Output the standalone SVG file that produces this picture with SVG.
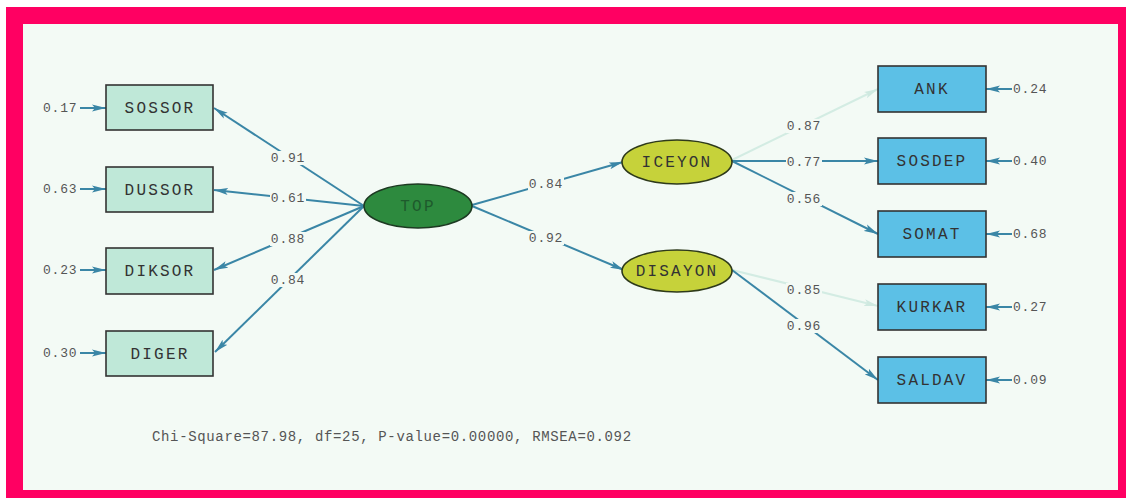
<svg xmlns="http://www.w3.org/2000/svg" width="1132" height="499" viewBox="0 0 1132 499">
<defs>
<marker id="ah" viewBox="0 0 14 8" refX="14" refY="4" markerWidth="14" markerHeight="8" markerUnits="userSpaceOnUse" orient="auto">
<path d="M0,0.5 L14,4 L0,7.5 L3,4 Z" fill="#3a86a6"/>
</marker>
<marker id="ahp" viewBox="0 0 14 8" refX="14" refY="4" markerWidth="14" markerHeight="8" markerUnits="userSpaceOnUse" orient="auto">
<path d="M0,0.5 L14,4 L0,7.5 L3,4 Z" fill="#cfe9e0"/>
</marker>
<style>
.ln{stroke:#3a86a6;stroke-width:2;fill:none;marker-end:url(#ah)}
.pl{stroke:#d3ece3;stroke-width:2;fill:none;marker-end:url(#ahp)}
.bxl{fill:#bfe8d8;stroke:#333;stroke-width:1.6}
.bxr{fill:#5cc0e6;stroke:#333;stroke-width:1.6}
.nt{font-family:"Liberation Mono",monospace;font-size:16px;letter-spacing:2.2px;fill:#333;text-anchor:middle}
.lbg{fill:#f3faf5}
.lb{font-family:"Liberation Mono",monospace;font-size:13px;letter-spacing:0.8px;fill:#555;text-anchor:middle}
.er{font-family:"Liberation Mono",monospace;font-size:13px;letter-spacing:0.8px;fill:#555}
</style>
</defs>
<rect x="0" y="0" width="1132" height="499" fill="#ffffff"/>
<rect x="6" y="7" width="1120" height="491" fill="#ff0062"/>
<rect x="23" y="24" width="1095" height="466" fill="#f3faf5"/>

<g id="connectors">
<line class="ln" x1="364" y1="206" x2="214" y2="108"/>
<line class="ln" x1="364" y1="206" x2="214" y2="190"/>
<line class="ln" x1="364" y1="206" x2="214" y2="270"/>
<line class="ln" x1="364" y1="206" x2="215" y2="352"/>
<line class="ln" x1="472" y1="205" x2="623" y2="162"/>
<line class="ln" x1="472" y1="206" x2="624" y2="270"/>
<line class="pl" x1="732" y1="160" x2="878" y2="89"/>
<line class="ln" x1="732" y1="161" x2="878" y2="161"/>
<line class="ln" x1="732" y1="161" x2="878" y2="234"/>
<line class="pl" x1="732" y1="270" x2="878" y2="306"/>
<line class="ln" x1="732" y1="270" x2="878" y2="380"/>
<line class="ln" x1="80" y1="108" x2="106" y2="108"/>
<line class="ln" x1="80" y1="189" x2="106" y2="189"/>
<line class="ln" x1="80" y1="270" x2="106" y2="270"/>
<line class="ln" x1="80" y1="353" x2="106" y2="353"/>
<line class="ln" x1="1012" y1="89" x2="986" y2="89"/>
<line class="ln" x1="1012" y1="161" x2="986" y2="161"/>
<line class="ln" x1="1012" y1="234" x2="986" y2="234"/>
<line class="ln" x1="1012" y1="307" x2="986" y2="307"/>
<line class="ln" x1="1012" y1="380" x2="986" y2="380"/>
<rect class="lbg" x="270" y="151" width="36" height="14"/>
<rect class="lbg" x="270" y="191" width="36" height="14"/>
<rect class="lbg" x="270" y="232" width="36" height="14"/>
<rect class="lbg" x="270" y="273" width="36" height="14"/>
<rect class="lbg" x="528" y="177" width="36" height="14"/>
<rect class="lbg" x="528" y="231" width="36" height="14"/>
<rect class="lbg" x="786" y="119" width="36" height="14"/>
<rect class="lbg" x="786" y="155" width="36" height="14"/>
<rect class="lbg" x="786" y="192" width="36" height="14"/>
<rect class="lbg" x="786" y="283" width="36" height="14"/>
<rect class="lbg" x="786" y="319" width="36" height="14"/>
<text class="lb" x="288" y="162">0.91</text>
<text class="lb" x="288" y="202">0.61</text>
<text class="lb" x="288" y="243">0.88</text>
<text class="lb" x="288" y="284">0.84</text>
<text class="lb" x="546" y="188">0.84</text>
<text class="lb" x="546" y="242">0.92</text>
<text class="lb" x="804" y="130">0.87</text>
<text class="lb" x="804" y="166">0.77</text>
<text class="lb" x="804" y="203">0.56</text>
<text class="lb" x="804" y="294">0.85</text>
<text class="lb" x="804" y="330">0.96</text>
<text class="er" x="43" y="112">0.17</text>
<text class="er" x="43" y="193">0.63</text>
<text class="er" x="43" y="274">0.23</text>
<text class="er" x="43" y="357">0.30</text>
<text class="er" x="1013" y="93">0.24</text>
<text class="er" x="1013" y="165">0.40</text>
<text class="er" x="1013" y="238">0.68</text>
<text class="er" x="1013" y="311">0.27</text>
<text class="er" x="1013" y="384">0.09</text>
</g>

<g id="node-sossor"><rect class="bxl" x="106" y="85" width="107" height="45"/><text class="nt" x="160" y="113">SOSSOR</text></g>
<g id="node-dussor"><rect class="bxl" x="106" y="167" width="107" height="45"/><text class="nt" x="160" y="195">DUSSOR</text></g>
<g id="node-diksor"><rect class="bxl" x="106" y="248" width="107" height="46"/><text class="nt" x="160" y="276">DIKSOR</text></g>
<g id="node-diger"><rect class="bxl" x="106" y="331" width="107" height="45"/><text class="nt" x="160" y="359">DIGER</text></g>

<g id="node-top"><ellipse cx="418" cy="206" rx="54" ry="22" fill="#2d8a3e" stroke="#1d3a22" stroke-width="1.6"/><text class="nt" x="418" y="211" style="fill:#1e5a2c">TOP</text></g>
<g id="node-iceyon"><ellipse cx="677" cy="162" rx="55" ry="22" fill="#c6d23a" stroke="#2e3a1a" stroke-width="1.6"/><text class="nt" x="677" y="167">ICEYON</text></g>
<g id="node-disayon"><ellipse cx="677" cy="271" rx="55" ry="21" fill="#c6d23a" stroke="#2e3a1a" stroke-width="1.6"/><text class="nt" x="677" y="276">DISAYON</text></g>

<g id="node-ank"><rect class="bxr" x="878" y="66" width="108" height="46"/><text class="nt" x="932" y="94">ANK</text></g>
<g id="node-sosdep"><rect class="bxr" x="878" y="138" width="108" height="46"/><text class="nt" x="932" y="166">SOSDEP</text></g>
<g id="node-somat"><rect class="bxr" x="878" y="211" width="108" height="46"/><text class="nt" x="932" y="239">SOMAT</text></g>
<g id="node-kurkar"><rect class="bxr" x="878" y="284" width="108" height="46"/><text class="nt" x="932" y="312">KURKAR</text></g>
<g id="node-saldav"><rect class="bxr" x="878" y="357" width="108" height="46"/><text class="nt" x="932" y="385">SALDAV</text></g>

<text x="152" y="441" font-family="Liberation Mono, monospace" font-size="14px" letter-spacing="0.65px" fill="#555">Chi-Square=87.98, df=25, P-value=0.00000, RMSEA=0.092</text>
</svg>
